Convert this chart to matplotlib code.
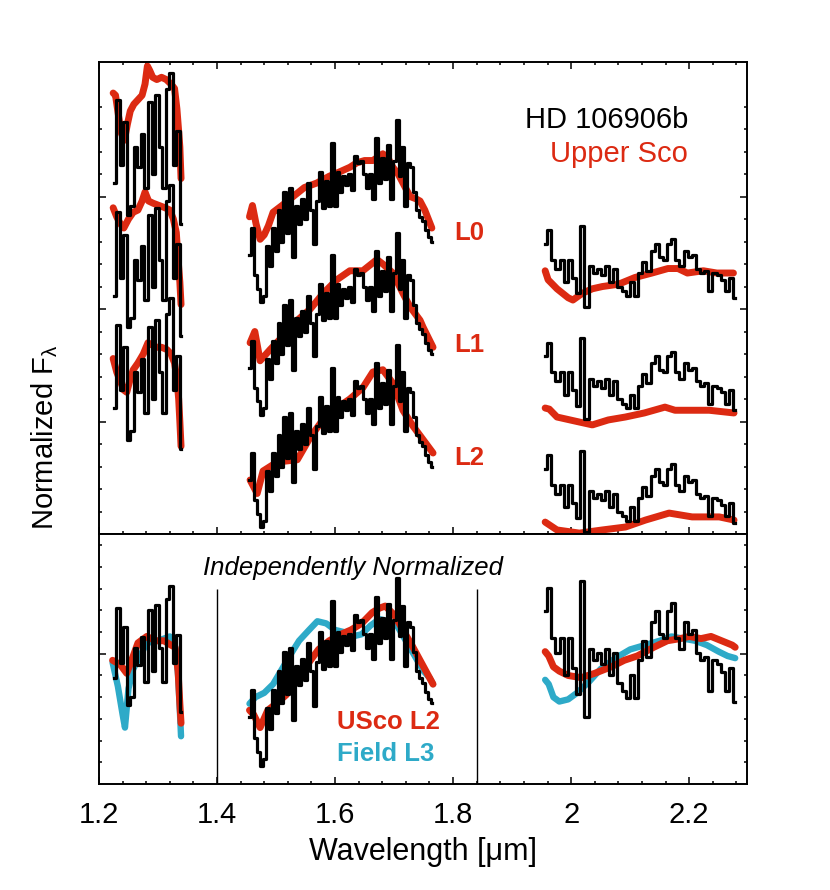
import matplotlib
matplotlib.use("Agg")
import matplotlib.pyplot as plt
from matplotlib.ticker import MultipleLocator, FixedLocator, NullFormatter

plt.rcParams['font.family'] = ['Liberation Sans', 'DejaVu Sans']
plt.rcParams['mathtext.fontset'] = 'custom'
plt.rcParams['mathtext.rm'] = 'Liberation Sans'
plt.rcParams['mathtext.it'] = 'Liberation Sans:italic'

RED = "#dc2a12"
CYAN = "#2eaac8"

# -- HD 106906b (black), flux on the scale of the lowest (L2) row ----------
J_WAVE = [1.226, 1.232, 1.238, 1.244, 1.250, 1.256, 1.262, 1.268, 1.274,
          1.280, 1.286, 1.292, 1.298, 1.304, 1.310, 1.316, 1.322, 1.328,
          1.334, 1.339]
J_FLUX = [5.6, 9.3, 6.4, 8.3, 4.2, 4.6, 7.2, 6.3, 7.8,
          5.4, 9.2, 6.0, 9.5, 7.2, 5.4, 9.8, 10.5, 6.4,
          7.9, 3.8]

H_WAVE = [1.455, 1.460, 1.465, 1.470, 1.475, 1.480, 1.485, 1.490, 1.495,
          1.500, 1.505, 1.510, 1.515, 1.520, 1.525, 1.530, 1.535, 1.540,
          1.545, 1.550, 1.555, 1.560, 1.565, 1.570, 1.575, 1.580, 1.585,
          1.590, 1.595, 1.600, 1.605, 1.610, 1.615, 1.620, 1.625, 1.630,
          1.635, 1.640, 1.645, 1.650, 1.655, 1.660, 1.665, 1.670, 1.675,
          1.680, 1.685, 1.690, 1.695, 1.700, 1.705, 1.710, 1.715, 1.720,
          1.725, 1.730, 1.735, 1.740, 1.745, 1.750, 1.755, 1.760, 1.764]
H_FLUX = [2.4, 3.6, 1.5, 0.9, 0.3, 0.6, 2.8, 1.9, 3.6,
          2.6, 4.4, 3.0, 5.2, 3.4, 5.4, 2.3, 4.6, 3.8,
          4.9, 4.0, 5.6, 4.4, 2.9, 4.8, 6.1, 4.5, 5.7,
          4.6, 7.4, 4.6, 6.1, 5.2, 5.9, 5.5, 6.0, 5.3,
          6.8, 6.5, 6.6, 6.0, 5.4, 6.0, 4.9, 7.6, 5.6,
          6.7, 5.8, 7.3, 4.9, 6.6, 8.4, 5.9, 7.2, 4.6,
          6.5, 6.3, 5.2, 4.4, 4.1, 3.9, 3.5, 3.2, 3.0]

K_WAVE = [1.956, 1.963, 1.970, 1.977, 1.984, 1.991, 1.998, 2.005, 2.012,
          2.019, 2.026, 2.033, 2.040, 2.047, 2.054, 2.061, 2.068, 2.075,
          2.082, 2.089, 2.096, 2.103, 2.110, 2.117, 2.124, 2.131, 2.138,
          2.145, 2.152, 2.159, 2.166, 2.173, 2.180, 2.187, 2.194, 2.201,
          2.208, 2.215, 2.222, 2.229, 2.236, 2.243, 2.250, 2.257, 2.264,
          2.271, 2.278]
K_FLUX = [2.9, 3.5, 2.2, 1.8, 2.2, 1.2, 2.2, 1.4, 0.7,
          3.7, 0.1, 1.9, 1.6, 1.8, 1.5, 1.9, 1.2, 1.8,
          1.0, 0.8, 0.6, 1.2, 0.6, 1.6, 2.1, 1.7, 2.6,
          2.9, 2.3, 2.2, 2.9, 3.1, 2.2, 1.9, 2.6, 2.3,
          2.4, 1.8, 1.6, 1.7, 0.8, 1.6, 1.5, 1.3, 0.8,
          1.4, 0.5]

# -- Upper Sco templates (red), flux relative to their own row -------------
L0_J_WAVE = [1.224, 1.228, 1.233, 1.238, 1.243, 1.248, 1.253, 1.259, 1.266,
             1.273, 1.278, 1.282, 1.286, 1.291, 1.298, 1.306, 1.314, 1.322,
             1.328, 1.332, 1.335, 1.337, 1.339]
L0_J_FLUX = [9.6, 9.5, 8.6, 7.8, 7.5, 8.2, 8.8, 9.1, 9.3,
             9.5, 10.0, 10.8, 10.6, 10.3, 10.2, 10.3, 10.2, 10.0,
             9.8, 8.9, 7.9, 7.2, 5.8]
L1_J_WAVE = [1.224, 1.230, 1.236, 1.242, 1.250, 1.258, 1.266, 1.273, 1.278,
             1.284, 1.292, 1.302, 1.312, 1.320, 1.326, 1.331, 1.334, 1.337,
             1.339]
L1_J_FLUX = [9.5, 9.1, 8.8, 8.6, 9.0, 9.3, 9.4, 9.8, 10.2,
             9.8, 9.7, 9.6, 9.5, 9.4, 9.0, 8.4, 7.2, 6.2,
             5.2]
L2_J_WAVE = [1.224, 1.230, 1.236, 1.242, 1.247, 1.252, 1.258, 1.266, 1.275,
             1.283, 1.290, 1.298, 1.306, 1.315, 1.322, 1.328, 1.332, 1.335,
             1.337, 1.339]
L2_J_FLUX = [7.8, 7.2, 6.8, 6.4, 6.3, 6.8, 7.3, 7.6, 8.0,
             8.5, 8.4, 8.3, 8.3, 8.2, 8.0, 7.6, 6.9, 6.0,
             5.0, 3.9]

L0_H_WAVE = [1.455, 1.460, 1.466, 1.473, 1.480, 1.487, 1.495, 1.510, 1.529,
             1.548, 1.569, 1.590, 1.608, 1.625, 1.637, 1.650, 1.664, 1.681,
             1.690, 1.698, 1.707, 1.715, 1.727, 1.737, 1.744, 1.752, 1.758,
             1.764]
L0_H_FLUX = [4.1, 4.6, 3.8, 3.1, 3.3, 3.7, 4.3, 4.6, 5.0,
             5.4, 5.6, 5.9, 6.1, 6.3, 6.5, 6.6, 6.6, 6.9,
             6.7, 6.3, 6.0, 5.6, 5.0, 4.9, 4.8, 4.4, 4.0,
             3.6]
L1_H_WAVE = [1.456, 1.464, 1.473, 1.490, 1.512, 1.536, 1.558, 1.580, 1.603,
             1.625, 1.647, 1.671, 1.681, 1.698, 1.715, 1.727, 1.744, 1.749,
             1.766]
L1_H_FLUX = [3.5, 4.0, 2.7, 3.2, 3.8, 4.5, 5.0, 5.7, 6.3,
             6.7, 6.7, 7.2, 7.0, 6.6, 5.7, 5.1, 4.5, 4.2,
             3.3]
L2_H_WAVE = [1.456, 1.468, 1.478, 1.502, 1.536, 1.558, 1.580, 1.603, 1.625,
             1.647, 1.664, 1.681, 1.698, 1.715, 1.732, 1.749, 1.766]
L2_H_FLUX = [2.4, 1.8, 2.8, 3.2, 3.3, 4.3, 5.1, 5.6, 6.0,
             6.5, 7.2, 7.3, 6.7, 5.5, 4.8, 4.2, 3.6]

L0_K_WAVE = [1.956, 1.961, 1.976, 1.995, 2.003, 2.019, 2.036, 2.053, 2.080,
             2.108, 2.137, 2.164, 2.181, 2.197, 2.224, 2.247, 2.275]
L0_K_FLUX = [1.7, 1.3, 0.9, 0.5, 0.4, 0.7, 0.9, 1.0, 1.1,
             1.4, 1.6, 1.8, 1.8, 1.6, 1.7, 1.6, 1.6]
L1_K_WAVE = [1.956, 1.963, 1.976, 2.010, 2.036, 2.063, 2.092, 2.124, 2.159,
             2.176, 2.200, 2.234, 2.276]
L1_K_FLUX = [0.6, 0.55, 0.2, 0.0, -0.15, 0.07, 0.2, 0.38, 0.64,
             0.5, 0.5, 0.5, 0.38]
L2_K_WAVE = [1.956, 1.976, 2.014, 2.053, 2.092, 2.126, 2.166, 2.205, 2.251,
             2.276]
L2_K_FLUX = [0.53, 0.18, 0.04, 0.18, 0.31, 0.62, 0.93, 0.76, 0.76, 0.62]

ROW_LABELS = ["L0", "L1", "L2"]
ROW_OFFSETS = [10, 5, 0]
TEMPLATES = [
    [(L0_J_WAVE, L0_J_FLUX), (L0_H_WAVE, L0_H_FLUX), (L0_K_WAVE, L0_K_FLUX)],
    [(L1_J_WAVE, L1_J_FLUX), (L1_H_WAVE, L1_H_FLUX), (L1_K_WAVE, L1_K_FLUX)],
    [(L2_J_WAVE, L2_J_FLUX), (L2_H_WAVE, L2_H_FLUX), (L2_K_WAVE, L2_K_FLUX)],
]

# -- lower panel: each band normalised on its own --------------------------
# (scale, shift) applied to the black spectrum per band
BAND_NORM = [(0.87, 0.0), (1.07, 0.5), (1.75, 2.9)]

USCO_J_WAVE = [1.223, 1.236, 1.247, 1.258, 1.266, 1.281, 1.296, 1.310, 1.322,
               1.329, 1.334, 1.337, 1.339]
USCO_J_FLUX = [5.7, 5.5, 5.1, 5.9, 6.5, 6.8, 6.6, 6.6, 6.4,
               6.3, 5.2, 3.7, 2.8]
FIELD_J_WAVE = [1.223, 1.232, 1.240, 1.244, 1.250, 1.258, 1.281, 1.300, 1.320,
                1.330, 1.334, 1.337, 1.339]
FIELD_J_FLUX = [5.6, 4.5, 3.2, 2.6, 4.4, 5.3, 6.5, 6.6, 6.8,
                6.2, 5.0, 3.4, 2.2]
USCO_H_WAVE = [1.455, 1.462, 1.473, 1.486, 1.500, 1.517, 1.535, 1.553, 1.572,
               1.590, 1.610, 1.627, 1.645, 1.663, 1.675, 1.685, 1.700, 1.715,
               1.730, 1.744, 1.756, 1.766]
USCO_H_FLUX = [3.4, 3.2, 2.6, 3.4, 3.7, 4.1, 4.8, 5.5, 6.2,
               6.6, 6.9, 7.1, 7.4, 7.9, 8.1, 8.2, 7.8, 7.1,
               6.4, 5.7, 5.1, 4.6]
FIELD_H_WAVE = [1.455, 1.465, 1.480, 1.495, 1.508, 1.523, 1.539, 1.556, 1.570,
                1.585, 1.600, 1.615, 1.630, 1.645, 1.660, 1.675, 1.690, 1.705,
                1.720, 1.735, 1.750, 1.760, 1.766]
FIELD_H_FLUX = [3.7, 4.0, 4.2, 4.6, 5.2, 5.9, 6.6, 7.1, 7.5,
                7.4, 7.1, 7.0, 6.8, 6.9, 7.3, 7.6, 7.5, 7.3,
                6.6, 5.9, 5.2, 4.9, 4.6]
USCO_K_WAVE = [1.956, 1.962, 1.970, 1.980, 1.995, 2.017, 2.040, 2.068, 2.090,
               2.112, 2.140, 2.163, 2.185, 2.200, 2.220, 2.237, 2.255, 2.273,
               2.278]
USCO_K_FLUX = [6.1, 5.9, 5.4, 5.2, 5.0, 4.9, 5.1, 5.4, 5.7,
               5.9, 6.3, 6.6, 6.7, 6.8, 6.7, 6.8, 6.6, 6.4,
               6.3]
FIELD_K_WAVE = [1.956, 1.962, 1.970, 1.980, 1.995, 2.010, 2.030, 2.050, 2.075,
                2.100, 2.125, 2.150, 2.170, 2.190, 2.210, 2.230, 2.250, 2.265,
                2.278]
FIELD_K_FLUX = [4.8, 4.6, 4.0, 3.8, 3.9, 4.2, 4.7, 5.3, 5.8,
                6.2, 6.4, 6.6, 6.8, 6.7, 6.6, 6.4, 6.1, 5.9,
                5.8]

BANDS = [(J_WAVE, J_FLUX), (H_WAVE, H_FLUX), (K_WAVE, K_FLUX)]
USCO_BOTTOM = [(USCO_J_WAVE, USCO_J_FLUX), (USCO_H_WAVE, USCO_H_FLUX),
               (USCO_K_WAVE, USCO_K_FLUX)]
FIELD_BOTTOM = [(FIELD_J_WAVE, FIELD_J_FLUX), (FIELD_H_WAVE, FIELD_H_FLUX),
                (FIELD_K_WAVE, FIELD_K_FLUX)]
GAP_LINES = [1.40, 1.84]

W, H = 830, 890
fig = plt.figure(figsize=(W / 100, H / 100), dpi=100)
ax1 = fig.add_axes([99 / W, 1 - 534 / H, 648 / W, 472 / H])
ax2 = fig.add_axes([99 / W, 1 - 784 / H, 648 / W, 250 / H])

BLACK_KW = dict(color="black", lw=2.3, drawstyle="steps-mid", zorder=3)
RED_KW = dict(color=RED, lw=5.0, solid_capstyle="round",
              solid_joinstyle="round", zorder=2)

# upper panel: three rows, one template each
for label, off, tmpl in zip(ROW_LABELS, ROW_OFFSETS, TEMPLATES):
    for (tw, tf), (bw, bf) in zip(tmpl, BANDS):
        ax1.plot(tw, [v + off for v in tf], **RED_KW)
        ax1.plot(bw, [v + off for v in bf], **BLACK_KW)
    ax1.text(1.802, off + 3.07, label, color=RED, fontsize=18.5,
             fontweight="bold", ha="left", va="baseline")

ax1.text(2.198, 18.04, "HD 106906b", color="black", fontsize=21,
         ha="right", va="baseline")
ax1.text(2.198, 16.53, "Upper Sco", color=RED, fontsize=21,
         ha="right", va="baseline")

# lower panel
for (fw, ff), (uw, uf), (bw, bf), (a, b) in zip(FIELD_BOTTOM, USCO_BOTTOM,
                                              BANDS, BAND_NORM):
    ax2.plot(fw, ff, color=CYAN, lw=4.6, solid_capstyle="round",
             solid_joinstyle="round", zorder=1)
    ax2.plot(uw, uf, **RED_KW)
    ax2.plot(bw, [a * v + b for v in bf], **BLACK_KW)
ax2.vlines(GAP_LINES, 0, 9.0, color="black", lw=1.0)

ax2.text(1.376, 9.63, "Independently Normalized", fontsize=18.5,
         style="italic", ha="left", va="baseline")
ax2.text(1.603, 2.53, "USco L2", color=RED, fontsize=18.5,
         fontweight="bold", ha="left", va="baseline")
ax2.text(1.603, 1.06, "Field L3", color=CYAN, fontsize=18.5,
         fontweight="bold", ha="left", va="baseline")

# axes styling
for ax in (ax1, ax2):
    ax.set_xlim(1.2, 2.298)
    ax.xaxis.set_major_locator(MultipleLocator(0.2))
    ax.xaxis.set_minor_locator(MultipleLocator(0.04))
    ax.yaxis.set_major_formatter(NullFormatter())
    for sp in ax.spines.values():
        sp.set_linewidth(1.4)
    ax.tick_params(which="both", direction="in", right=True, width=1.1)
    ax.tick_params(which="major", length=5)
    ax.tick_params(which="minor", length=2.5)

ax1.set_ylim(0, 20.98)
ax1.yaxis.set_major_locator(FixedLocator([5, 10, 15]))
ax1.yaxis.set_minor_locator(FixedLocator([v for v in range(1, 21)
                                          if v % 5]))
ax1.tick_params(which="both", top=True, labelbottom=False)

ax2.set_ylim(0, 11.52)
ax2.yaxis.set_major_locator(FixedLocator([6]))
ax2.yaxis.set_minor_locator(FixedLocator([v for v in range(1, 12)
                                          if v != 6]))
ax2.tick_params(which="both", top=False)
ax2.tick_params(axis="x", which="major", labelsize=21, pad=12.5)
ax2.xaxis.set_major_formatter(
    plt.FuncFormatter(lambda v, _: f"{v:g}"))

fig.text(423 / W, 1 - 860 / H, "Wavelength [μm]", fontsize=22,
         ha="center", va="baseline")
fig.text(45 / W, 1 - 530 / H, "Normalized F$_{\\mathrm{λ}}$", fontsize=21,
         rotation=90, ha="center", va="bottom")

fig.savefig("out.png", dpi=100, facecolor="white")
